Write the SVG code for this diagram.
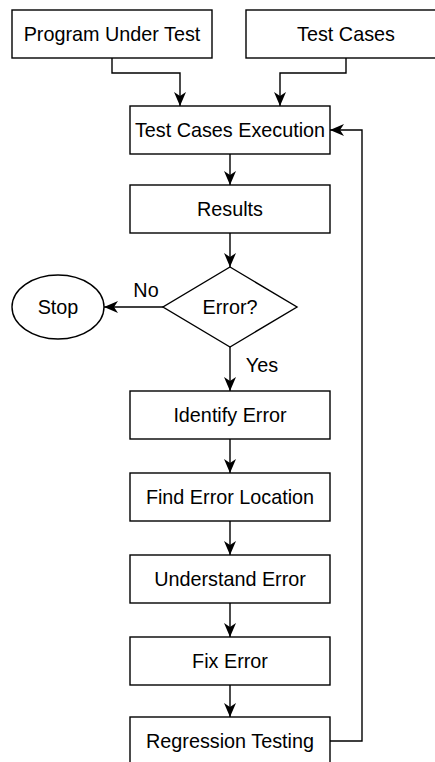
<svg xmlns="http://www.w3.org/2000/svg" width="435" height="762" viewBox="0 0 435 762">
  <style>
    .box { fill: #ffffff; stroke: #000000; stroke-width: 1.4; }
    .lbl { font-family: "Liberation Sans", Arial, sans-serif; font-size: 19.8px; fill: #000000; text-anchor: middle; }
    .edge { fill: none; stroke: #000000; stroke-width: 1.4; marker-end: url(#arrow); }
  </style>
  <defs>
    <marker id="arrow" viewBox="0 0 14 12" refX="14" refY="6" markerWidth="14" markerHeight="12" markerUnits="userSpaceOnUse" orient="auto">
      <path d="M0,0 L14,6 L0,12 L4,6 Z" fill="#000000"/>
    </marker>
  </defs>
  <rect x="0" y="0" width="435" height="762" fill="#ffffff"/>

  <g id="connectors">
    <path class="edge" d="M112,58 V73 H180 V106"/>
    <path class="edge" d="M346,58 V73 H280 V106"/>
    <path class="edge" d="M230,154 V185"/>
    <path class="edge" d="M230,233 V267"/>
    <path class="edge" d="M163,307 H104"/>
    <path class="edge" d="M230,347 V391"/>
    <path class="edge" d="M230,439 V473"/>
    <path class="edge" d="M230,521 V555"/>
    <path class="edge" d="M230,603 V637"/>
    <path class="edge" d="M230,685 V717"/>
    <path class="edge" d="M330,741 H362 V130 H330"/>
    <text class="lbl" x="146" y="297">No</text>
    <text class="lbl" x="262" y="372">Yes</text>
  </g>

  <g id="program-under-test">
    <rect class="box" x="12" y="10" width="200" height="48"/>
    <text class="lbl" x="112" y="41">Program Under Test</text>
  </g>
  <g id="test-cases">
    <rect class="box" x="246" y="10" width="200" height="48"/>
    <text class="lbl" x="346" y="41">Test Cases</text>
  </g>
  <g id="test-cases-execution">
    <rect class="box" x="130" y="106" width="200" height="48"/>
    <text class="lbl" x="230" y="137">Test Cases Execution</text>
  </g>
  <g id="results">
    <rect class="box" x="130" y="185" width="200" height="48"/>
    <text class="lbl" x="230" y="216">Results</text>
  </g>
  <g id="error-decision">
    <path class="box" d="M230,267 L297,307 L230,347 L163,307 Z"/>
    <text class="lbl" x="230" y="314">Error?</text>
  </g>
  <g id="stop">
    <ellipse class="box" cx="58" cy="307" rx="46" ry="32"/>
    <text class="lbl" x="58" y="314">Stop</text>
  </g>
  <g id="identify-error">
    <rect class="box" x="130" y="391" width="200" height="48"/>
    <text class="lbl" x="230" y="422">Identify Error</text>
  </g>
  <g id="find-error-location">
    <rect class="box" x="130" y="473" width="200" height="48"/>
    <text class="lbl" x="230" y="504">Find Error Location</text>
  </g>
  <g id="understand-error">
    <rect class="box" x="130" y="555" width="200" height="48"/>
    <text class="lbl" x="230" y="586">Understand Error</text>
  </g>
  <g id="fix-error">
    <rect class="box" x="130" y="637" width="200" height="48"/>
    <text class="lbl" x="230" y="668">Fix Error</text>
  </g>
  <g id="regression-testing">
    <rect class="box" x="130" y="717" width="200" height="48"/>
    <text class="lbl" x="230" y="748">Regression Testing</text>
  </g>
</svg>
